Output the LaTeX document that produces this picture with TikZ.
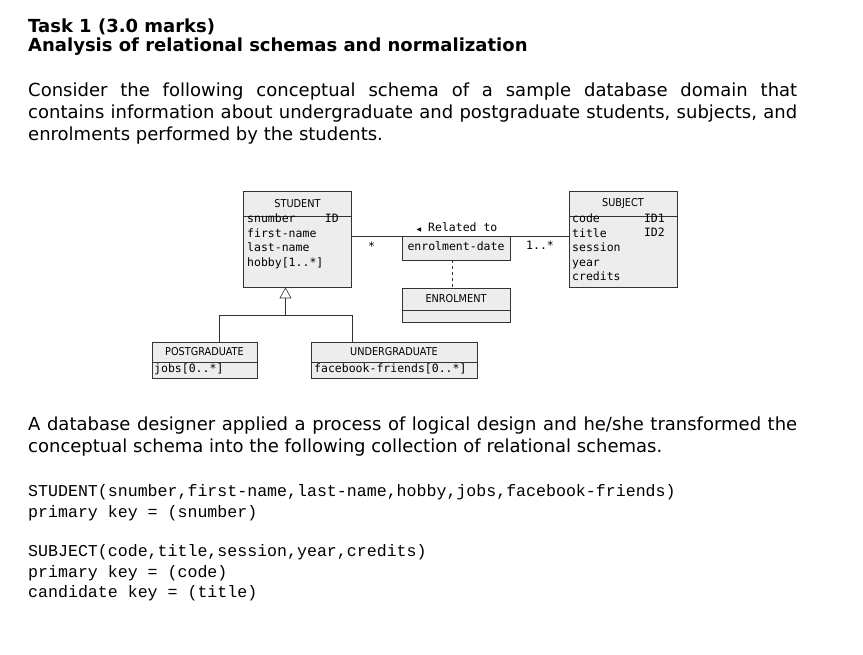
\documentclass[tikz,border=0pt]{standalone}
\usepackage{fontspec}
\setmainfont{DejaVu Sans}
\setmonofont{Liberation Mono}
\newfontfamily\umlmono{DejaVu Sans Mono}
\newfontfamily\umlsans{DejaVu Sans Condensed}
\newfontfamily\symfont{DejaVu Sans}
\begin{document}
\begin{tikzpicture}[x=1pt,y=-1pt,
  box/.style={draw=black!80,fill=black!7,line width=0.6pt},
  umlt/.style={font=\umlmono\fontsize{11.5}{14.4}\selectfont,anchor=north west,inner sep=0pt,align=left},
  umlh/.style={font=\umlsans\fontsize{10.8}{12}\selectfont,inner sep=0pt},
  body/.style={anchor=north west,inner sep=0pt,text width=769pt,align=justify,font=\fontsize{18}{22}\selectfont},
  code/.style={anchor=west,inner sep=0pt,font=\ttfamily\fontsize{16.6}{20}\selectfont},
  ln/.style={draw=black!80,line width=0.6pt}]
\useasboundingbox[fill=white] (0,0) rectangle (863,654);
% header
\node[anchor=west,inner sep=0pt,font=\bfseries\fontsize{18}{22}\selectfont] (t1) at (28,27) {Task 1 (3.0 marks)};
\node[anchor=west,inner sep=0pt,font=\bfseries\fontsize{18}{22}\selectfont] (t2) at (28,47) {Analysis of relational schemas and normalization};
\node[body] (p1) at (28,83) {Consider the following conceptual schema of a sample database domain that\linebreak contains information about undergraduate and postgraduate students, subjects, and\linebreak enrolments performed by the students.};
\node[body] (p2) at (28,417) {A database designer applied a process of logical design and he/she transformed the\linebreak conceptual schema into the following collection of relational schemas.};
% UML
\draw[box] (243.5,191) rectangle (351.5,287); \draw[ln] (243.5,216)--(351.5,216);
\node[umlh] (sth) at (297.5,203.5) {STUDENT};
\node[umlt] (sta) at (247,214) {snumber\\first-name\\last-name\\hobby[1..*]};
\node[umlt,anchor=north east] (sid) at (339,214) {ID};
\draw[box] (569,191) rectangle (677,287); \draw[ln] (569,216)--(677,216);
\node[umlh] (suh) at (623,203.5) {SUBJECT};
\node[umlt] (sua) at (572,214) {code\\title\\session\\year\\credits};
\node[umlt,anchor=north east] (suid) at (665,214) {ID1\\ID2};
\draw[box] (402,236) rectangle (510,260);
\node[umlt,anchor=center] (ed) at (456,246) {enrolment-date};
\draw[ln] (351.5,236) -- (569,236);
\node[umlt,anchor=center] (rel) at (457,227) {{\symfont\fontsize{6}{6}\selectfont ◀} Related to};
\node[umlt,anchor=center] (m1) at (371.5,246) {*};
\node[umlt,anchor=center] (m2) at (540,245) {1..*};
\draw[box] (402,288) rectangle (510,322); \draw[ln] (402,310)--(510,310);
\node[umlh] (enh) at (456,299) {ENROLMENT};
\draw[ln,dashed] (452,260) -- (452,288);
% generalization
\draw[box] (152,342) rectangle (257,378); \draw[ln] (152,362)--(257,362);
\node[umlh] (pgh) at (204.5,352) {POSTGRADUATE};
\node[umlt] (pga) at (154,363.5) {jobs[0..*]};
\draw[box] (311,342) rectangle (477.5,378); \draw[ln] (311,362)--(477.5,362);
\node[umlh] (ugh) at (394,352) {UNDERGRADUATE};
\node[umlt] (uga) at (314,363.5) {facebook-friends[0..*]};
\draw[ln,fill=white] (285.5,288) -- (280,298) -- (291,298) -- cycle;
\draw[ln] (285.5,298) -- (285.5,315) (219,342) -- (219,315) -- (352,315) -- (352,342);
% code
\node[code] (c1) at (28,492) {STUDENT(snumber,first-name,last-name,hobby,jobs,facebook-friends)};
\node[code] (c2) at (28,513) {primary key = (snumber)};
\node[code] (c3) at (28,552) {SUBJECT(code,title,session,year,credits)};
\node[code] (c4) at (28,573) {primary key = (code)};
\node[code] (c5) at (28,593) {candidate key = (title)};
\end{tikzpicture}
\end{document}
